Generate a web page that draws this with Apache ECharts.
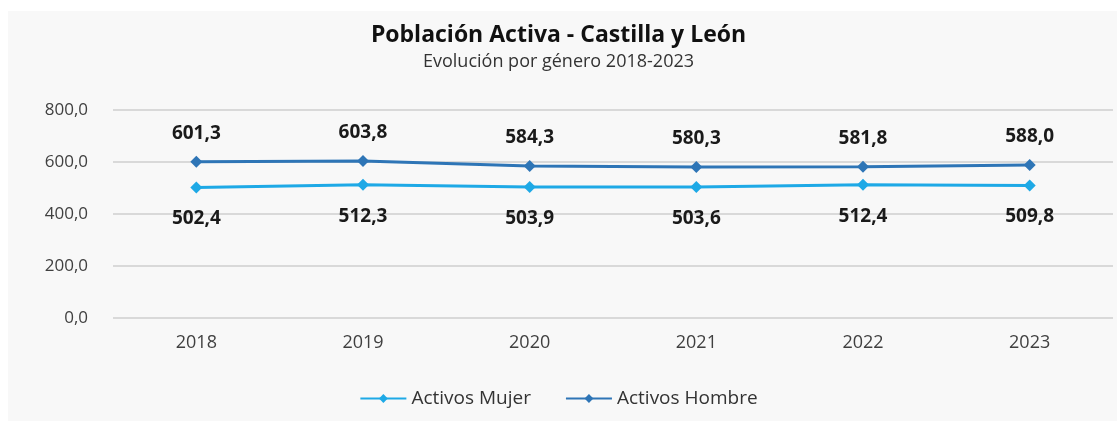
<!DOCTYPE html>
<html>
<head>
<meta charset="utf-8">
<script src="https://cdn.jsdelivr.net/npm/echarts@6/dist/echarts.min.js"></script>
<style>
html,body{margin:0;padding:0;background:#ffffff;}
#panel{position:absolute;left:8px;top:11px;width:1109px;height:410px;background:#f8f8f8;}
#chart{position:absolute;left:0;top:0;width:1117px;height:423px;}
</style>
</head>
<body>
<div id="panel"></div>
<div id="chart"></div>
<script>
const categories = ['2018', '2019', '2020', '2021', '2022', '2023'];
const mujer = [502.4, 512.3, 503.9, 503.6, 512.4, 509.8];
const hombre = [601.3, 603.8, 584.3, 580.3, 581.8, 588.0];
const yTicks = [0, 200, 400, 600, 800];

const fmt = v => v.toFixed(1).replace('.', ',');
const FONT = 'Open Sans';

const chart = echarts.init(document.getElementById('chart'), null, {renderer: 'canvas'});
chart.setOption({
  backgroundColor: 'transparent',
  animation: false,
  title: [
    {
      text: 'Población Activa - Castilla y León',
      left: 'center',
      top: 21,
      padding: 0,
      textStyle: {fontFamily: FONT, fontSize: 23, lineHeight: 28, fontWeight: 'bold', color: '#111111'}
    },
    {
      text: 'Evolución por género 2018-2023',
      left: 'center',
      top: 51,
      padding: 0,
      textStyle: {fontFamily: FONT, fontSize: 18, lineHeight: 22, fontWeight: 'normal', color: '#333333'}
    }
  ],
  legend: {
    top: 384,
    left: 'center',
    itemWidth: 46,
    itemHeight: 11,
    itemGap: 34,
    textStyle: {fontFamily: FONT, fontSize: 19, color: '#333333'},
    data: ['Activos Mujer', 'Activos Hombre']
  },
  grid: {left: 113, right: 4, top: 110, bottom: 105, containLabel: false},
  xAxis: {
    type: 'category',
    data: categories,
    axisLine: {show: false},
    axisTick: {show: false},
    axisLabel: {fontFamily: FONT, fontSize: 18, color: '#404040', margin: 16}
  },
  yAxis: {
    type: 'value',
    min: yTicks[0],
    max: yTicks[yTicks.length - 1],
    interval: 200,
    axisLine: {show: false},
    axisTick: {show: false},
    splitLine: {lineStyle: {color: '#d9d9d9', width: 2}},
    axisLabel: {fontFamily: FONT, fontSize: 17, color: '#404040', margin: 25, formatter: v => fmt(v)}
  },
  series: [
    {
      name: 'Activos Mujer',
      type: 'line',
      data: mujer,
      symbol: 'diamond',
      symbolSize: 12,
      lineStyle: {width: 3, color: '#1ea9e6'},
      itemStyle: {color: '#1ea9e6'},
      label: {show: true, position: 'bottom', distance: 16, fontFamily: FONT, fontSize: 19, fontWeight: 'bold', color: '#1a1a1a', formatter: p => fmt(p.value)}
    },
    {
      name: 'Activos Hombre',
      type: 'line',
      data: hombre,
      symbol: 'diamond',
      symbolSize: 12,
      lineStyle: {width: 3, color: '#2e75b6'},
      itemStyle: {color: '#2e75b6'},
      label: {show: true, position: 'top', distance: 13, fontFamily: FONT, fontSize: 19, fontWeight: 'bold', color: '#1a1a1a', formatter: p => fmt(p.value)}
    }
  ]
});
</script>
</body>
</html>
